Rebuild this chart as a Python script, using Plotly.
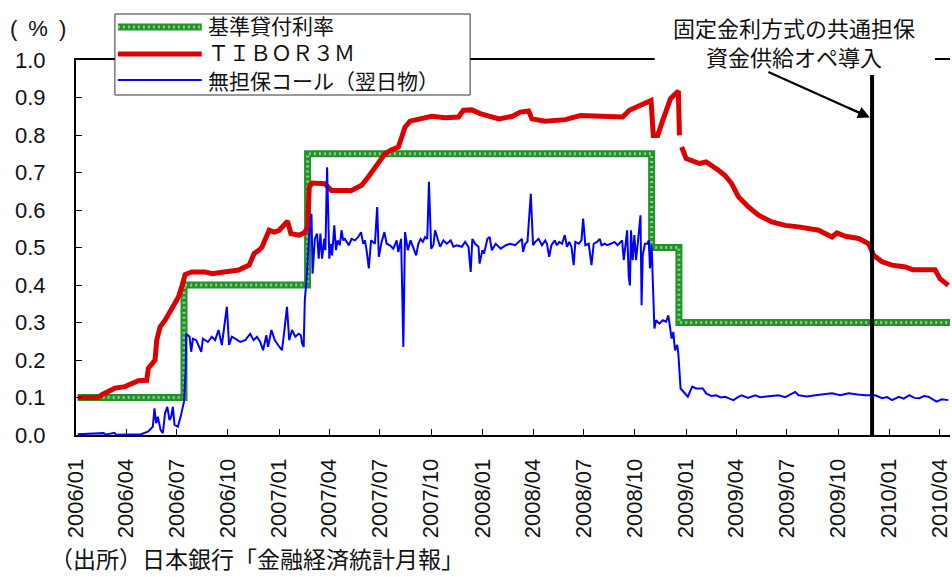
import plotly.graph_objects as go

# ---- 基準貸付利率（変更日と水準, %）----
policy_dates = ["2006-01-04", "2006-07-14", "2007-02-21", "2008-10-31", "2008-12-19", "2010-04-30"]
policy_rate = [0.10, 0.40, 0.75, 0.50, 0.30, 0.30]

# ---- TIBOR 3M (%) ----
tibor_dates = [
    "2006-01-04", "2006-02-09", "2006-02-18", "2006-03-12", "2006-03-30", "2006-04-23",
    "2006-05-08", "2006-05-11", "2006-05-23", "2006-05-26", "2006-06-01", "2006-06-10",
    "2006-06-22", "2006-07-04", "2006-07-10", "2006-07-16", "2006-07-28", "2006-08-21",
    "2006-09-02", "2006-09-26", "2006-10-20", "2006-11-08", "2006-11-17", "2006-11-26",
    "2006-12-01", "2006-12-14", "2006-12-23", "2007-01-01", "2007-01-16", "2007-01-22",
    "2007-02-06", "2007-02-15", "2007-02-21", "2007-02-24", "2007-03-01", "2007-03-24",
    "2007-04-05", "2007-05-11", "2007-05-29", "2007-06-10", "2007-06-19", "2007-06-28",
    "2007-07-10", "2007-07-22", "2007-08-03", "2007-08-09", "2007-08-15", "2007-08-24",
    "2007-09-08", "2007-10-02", "2007-10-26", "2007-11-19", "2007-11-28", "2007-12-13",
    "2007-12-28", "2008-01-12", "2008-01-31", "2008-02-24", "2008-03-09", "2008-03-24",
    "2008-03-30", "2008-04-23", "2008-05-05", "2008-05-29", "2008-06-25", "2008-07-28",
    "2008-09-09", "2008-09-21", "2008-10-09", "2008-10-30", "2008-11-03", "2008-11-11",
    "2008-11-20", "2008-11-26", "2008-12-04", "2008-12-13", "2008-12-18", "2008-12-20",
    "2008-12-22",
    "2008-12-24", "2009-01-01", "2009-01-25", "2009-02-06", "2009-02-28", "2009-03-12",
    "2009-03-24", "2009-04-05", "2009-04-23", "2009-05-11", "2009-06-04", "2009-06-28",
    "2009-07-22", "2009-08-27", "2009-09-20", "2009-09-29", "2009-10-14", "2009-11-07",
    "2009-11-25", "2009-12-04", "2009-12-19", "2010-01-06", "2010-01-30", "2010-02-12",
    "2010-03-24", "2010-04-02", "2010-04-17",
]
tibor_rate = [
    0.100, 0.100, 0.109, 0.125, 0.129, 0.145,
    0.146, 0.178, 0.200, 0.253, 0.288, 0.306,
    0.337, 0.368, 0.395, 0.428, 0.435, 0.435,
    0.430, 0.435, 0.440, 0.453, 0.484, 0.493,
    0.501, 0.546, 0.541, 0.546, 0.570, 0.537,
    0.533, 0.539, 0.553, 0.661, 0.672, 0.670,
    0.652, 0.652, 0.666, 0.688, 0.706, 0.728,
    0.750, 0.761, 0.768, 0.794, 0.821, 0.837,
    0.843, 0.850, 0.846, 0.848, 0.866, 0.867,
    0.857, 0.852, 0.843, 0.850, 0.861, 0.864,
    0.843, 0.837, 0.839, 0.841, 0.852, 0.850,
    0.848, 0.866, 0.879, 0.892, 0.799, 0.799,
    0.839, 0.866, 0.897, 0.910, 0.917, 0.799,
    None,
    0.768, 0.737, 0.724, 0.728, 0.706, 0.692,
    0.670, 0.635, 0.608, 0.586, 0.568, 0.559,
    0.555, 0.546, 0.528, 0.539, 0.530, 0.524,
    0.510, 0.479, 0.462, 0.453, 0.448, 0.441,
    0.441, 0.417, 0.399,
]

# ---- 無担保コール（翌日物）(%) ----
call_dates = [
    "2006-01-04", "2006-02-20", "2006-02-23", "2006-03-11", "2006-03-14", "2006-04-28",
    "2006-05-10", "2006-05-19", "2006-05-22", "2006-05-25", "2006-05-28", "2006-06-02",
    "2006-06-06", "2006-06-10", "2006-06-14", "2006-06-18", "2006-06-21", "2006-06-24",
    "2006-06-27", "2006-07-03", "2006-07-08", "2006-07-11", "2006-07-14", "2006-07-17",
    "2006-07-18", "2006-07-24", "2006-07-27", "2006-07-30", "2006-08-05", "2006-08-14",
    "2006-08-17", "2006-08-26", "2006-09-02", "2006-09-08", "2006-09-14", "2006-09-20",
    "2006-09-29", "2006-10-03", "2006-10-08", "2006-10-14", "2006-10-23", "2006-11-01",
    "2006-11-10", "2006-11-16", "2006-11-22", "2006-11-28", "2006-12-03", "2006-12-09",
    "2006-12-12", "2006-12-18", "2006-12-24", "2006-12-30", "2007-01-06", "2007-01-10",
    "2007-01-15", "2007-01-19", "2007-01-24", "2007-01-30", "2007-02-05", "2007-02-09",
    "2007-02-11", "2007-02-14", "2007-02-16", "2007-02-19", "2007-02-24", "2007-02-28",
    "2007-03-02", "2007-03-06", "2007-03-10", "2007-03-13", "2007-03-16", "2007-03-19",
    "2007-03-23", "2007-03-25", "2007-03-28", "2007-04-01", "2007-04-04", "2007-04-06",
    "2007-04-10", "2007-04-13", "2007-04-16", "2007-04-20", "2007-04-23", "2007-04-26",
    "2007-04-29", "2007-05-06", "2007-05-11", "2007-05-17", "2007-05-23", "2007-05-28",
    "2007-06-01", "2007-06-04", "2007-06-07", "2007-06-11", "2007-06-15", "2007-06-22",
    "2007-06-26", "2007-06-29", "2007-07-04", "2007-07-09", "2007-07-13", "2007-07-19",
    "2007-07-25", "2007-07-31", "2007-08-03", "2007-08-08", "2007-08-12", "2007-08-15",
    "2007-08-20", "2007-08-25", "2007-08-31", "2007-09-04", "2007-09-08", "2007-09-12",
    "2007-09-16", "2007-09-20", "2007-09-24", "2007-09-27", "2007-10-01", "2007-10-05",
    "2007-10-08", "2007-10-13", "2007-10-17", "2007-10-23", "2007-10-29", "2007-11-05",
    "2007-11-10", "2007-11-16", "2007-11-25", "2007-12-01", "2007-12-07", "2007-12-11",
    "2007-12-14", "2007-12-19", "2007-12-25", "2007-12-27", "2008-01-01", "2008-01-04",
    "2008-01-10", "2008-01-14", "2008-01-18", "2008-01-25", "2008-02-03", "2008-02-12",
    "2008-02-20", "2008-02-29", "2008-03-07", "2008-03-12", "2008-03-14", "2008-03-18",
    "2008-03-22", "2008-03-28", "2008-04-01", "2008-04-05", "2008-04-11", "2008-04-17",
    "2008-04-23", "2008-04-26", "2008-04-30", "2008-05-04", "2008-05-10", "2008-05-14",
    "2008-05-18", "2008-05-23", "2008-05-28", "2008-06-01", "2008-06-05", "2008-06-09",
    "2008-06-13", "2008-06-16", "2008-06-22", "2008-06-27", "2008-06-30", "2008-07-04",
    "2008-07-10", "2008-07-15", "2008-07-19", "2008-07-25", "2008-07-30", "2008-08-02",
    "2008-08-08", "2008-08-12", "2008-08-19", "2008-08-25", "2008-08-31", "2008-09-03",
    "2008-09-08", "2008-09-11", "2008-09-14", "2008-09-17", "2008-09-20", "2008-09-22",
    "2008-09-24", "2008-09-27", "2008-09-30", "2008-10-03", "2008-10-06", "2008-10-08",
    "2008-10-11", "2008-10-13", "2008-10-15", "2008-10-19", "2008-10-23", "2008-10-26",
    "2008-10-28", "2008-10-31", "2008-11-03", "2008-11-05", "2008-11-08", "2008-11-14",
    "2008-11-20", "2008-11-26", "2008-11-30", "2008-12-03", "2008-12-06", "2008-12-09",
    "2008-12-12", "2008-12-16", "2008-12-18", "2008-12-22", "2008-12-28", "2009-01-04",
    "2009-01-12", "2009-01-19", "2009-01-31", "2009-02-06", "2009-02-15", "2009-02-24",
    "2009-03-04", "2009-03-12", "2009-03-20", "2009-03-27", "2009-04-04", "2009-04-11",
    "2009-04-22", "2009-05-05", "2009-05-14", "2009-05-23", "2009-06-04", "2009-06-16",
    "2009-06-28", "2009-07-16", "2009-07-22", "2009-08-06", "2009-08-21", "2009-09-04",
    "2009-09-20", "2009-10-05", "2009-10-20", "2009-11-05", "2009-11-19", "2009-12-07",
    "2009-12-19", "2009-12-28", "2010-01-06", "2010-01-18", "2010-01-27", "2010-02-06",
    "2010-02-15", "2010-02-24", "2010-03-04", "2010-03-12", "2010-03-20", "2010-03-27",
    "2010-04-05", "2010-04-17",
]
call_rate = [
    0.002, 0.005, 0.001, 0.006, 0.001, 0.002,
    0.009, 0.022, 0.071, 0.031, 0.049, 0.013,
    0.005, 0.058, 0.075, 0.040, 0.049, 0.075,
    0.027, 0.022, 0.049, 0.071, 0.089, 0.173,
    0.270, 0.262, 0.222, 0.257, 0.253, 0.222,
    0.257, 0.248, 0.262, 0.253, 0.280, 0.240,
    0.342, 0.240, 0.262, 0.257, 0.248, 0.253,
    0.270, 0.253, 0.262, 0.248, 0.226, 0.266,
    0.235, 0.280, 0.253, 0.240, 0.226, 0.275,
    0.342, 0.253, 0.280, 0.262, 0.270, 0.266,
    0.244, 0.235, 0.359, 0.413, 0.537, 0.590,
    0.430, 0.523, 0.537, 0.470, 0.537, 0.470,
    0.523, 0.493, 0.714, 0.470, 0.510, 0.479,
    0.559, 0.493, 0.519, 0.506, 0.546, 0.519,
    0.523, 0.506, 0.523, 0.519, 0.528, 0.541,
    0.510, 0.519, 0.493, 0.444, 0.519, 0.510,
    0.608, 0.475, 0.515, 0.541, 0.510, 0.506,
    0.497, 0.519, 0.488, 0.523, 0.235, 0.541,
    0.493, 0.519, 0.493, 0.479, 0.510, 0.523,
    0.515, 0.528, 0.523, 0.675, 0.497, 0.506,
    0.546, 0.523, 0.502, 0.519, 0.510, 0.519,
    0.502, 0.506, 0.502, 0.515, 0.502, 0.435,
    0.523, 0.510, 0.502, 0.457, 0.493, 0.484,
    0.523, 0.528, 0.493, 0.510, 0.497, 0.506,
    0.510, 0.506, 0.515, 0.523, 0.488, 0.510,
    0.515, 0.643, 0.506, 0.515, 0.523, 0.506,
    0.519, 0.510, 0.475, 0.506, 0.519, 0.506,
    0.515, 0.510, 0.533, 0.502, 0.515, 0.502,
    0.453, 0.515, 0.510, 0.519, 0.577, 0.506,
    0.510, 0.453, 0.510, 0.515, 0.523, 0.506,
    0.510, 0.506, 0.510, 0.515, 0.506, 0.510,
    0.519, 0.466, 0.515, 0.546, 0.421, 0.399,
    0.546, 0.466, 0.533, 0.466, 0.510, 0.546,
    0.586, 0.346, 0.479, 0.510, 0.510, 0.519,
    0.444, 0.506, 0.377, 0.284, 0.306, 0.297,
    0.306, 0.302, 0.319, 0.280, 0.257, 0.275,
    0.226, 0.240, 0.217, 0.124, 0.115, 0.102,
    0.129, 0.124, 0.124, 0.111, 0.104, 0.106,
    0.100, 0.102, 0.097, 0.093, 0.101, 0.106,
    0.099, 0.106, 0.101, 0.102, 0.104, 0.106,
    0.101, 0.115, 0.106, 0.103, 0.106, 0.108,
    0.111, 0.106, 0.111, 0.108, 0.106, 0.106,
    0.098, 0.101, 0.093, 0.102, 0.097, 0.106,
    0.099, 0.098, 0.104, 0.102, 0.096, 0.089,
    0.095, 0.093,
]

# Quarterly axis ticks
tick_dates = [
    "2006-01-01", "2006-04-01", "2006-07-01", "2006-10-01",
    "2007-01-01", "2007-04-01", "2007-07-01", "2007-10-01",
    "2008-01-01", "2008-04-01", "2008-07-01", "2008-10-01",
    "2009-01-01", "2009-04-01", "2009-07-01", "2009-10-01",
    "2010-01-01", "2010-04-01",
]
tick_labels = [
    "2006/01", "2006/04", "2006/07", "2006/10",
    "2007/01", "2007/04", "2007/07", "2007/10",
    "2008/01", "2008/04", "2008/07", "2008/10",
    "2009/01", "2009/04", "2009/07", "2009/10",
    "2010/01", "2010/04",
]

series_names = ["基準貸付利率", "ＴＩＢＯＲ３Ｍ", "無担保コール（翌日物）"]

EVENT_DATE = "2009-12-01"
EVENT_TOP = 0.96

# Japanese glyphs fall back to Noto Sans CJK JP; Liberation Sans keeps line boxes compact
JP_FONT = "Liberation Sans, Noto Sans CJK JP, sans-serif"
NUM_FONT = "Liberation Sans, Arial, sans-serif"
GREEN = "#23922a"
GREEN_DOTS = "#86cf86"
RED = "#dd0000"
BLUE = "#0000ff"

fig = go.Figure()

# 基準貸付利率: thick green band with a light speckled texture on top
fig.add_trace(go.Scatter(
    x=policy_dates, y=policy_rate, mode="lines", line_shape="hv",
    name=series_names[0], showlegend=False,
    line=dict(color=GREEN, width=7),
))
fig.add_trace(go.Scatter(
    x=policy_dates, y=policy_rate, mode="lines", line_shape="hv",
    showlegend=False, hoverinfo="skip",
    line=dict(color=GREEN_DOTS, width=3, dash="2px,3px"),
))

fig.add_trace(go.Scatter(
    x=tibor_dates, y=tibor_rate, mode="lines",
    name=series_names[1], showlegend=False,
    line=dict(color=RED, width=5),
    connectgaps=False,
))

fig.add_trace(go.Scatter(
    x=call_dates, y=call_rate, mode="lines",
    name=series_names[2], showlegend=False,
    line=dict(color=BLUE, width=2),
))

# Vertical marker for the introduction of the fixed-rate operation
fig.add_shape(
    type="line", xref="x", yref="y",
    x0=EVENT_DATE, x1=EVENT_DATE, y0=0, y1=EVENT_TOP,
    line=dict(color="black", width=4),
)


# ---- helpers: pixel position -> paper coordinates (plot area 876 x 375 px) ----
def px_x(px):
    return (px - 76) / 876.0


def px_y(py):
    return (435 - py) / 375.0


# Legend box drawn over the top frame line
fig.add_shape(
    type="rect", xref="paper", yref="paper", layer="above",
    x0=px_x(115), x1=px_x(471), y0=px_y(95), y1=px_y(14),
    line=dict(color="#333333", width=1), fillcolor="white",
)
legend_rows = [27, 54, 80]
legend_styles = [
    [dict(color=GREEN, width=7), dict(color=GREEN_DOTS, width=3, dash="2px,3px")],
    [dict(color=RED, width=5)],
    [dict(color=BLUE, width=2)],
]
for row, styles in zip(legend_rows, legend_styles):
    for st in styles:
        fig.add_shape(
            type="line", xref="paper", yref="paper", layer="above",
            x0=px_x(118), x1=px_x(202), y0=px_y(row), y1=px_y(row),
            line=st,
        )
fig.add_annotation(
    xref="paper", yref="paper", x=px_x(206), y=px_y(54),
    xanchor="left", yanchor="middle", align="left", showarrow=False,
    text="<br>".join(series_names),
    font=dict(family=JP_FONT, size=21, color="#111111"),
)

# Event label: white gap in the top frame line, then the two-line text
fig.add_shape(
    type="rect", xref="paper", yref="paper", layer="above",
    x0=px_x(656), x1=px_x(937), y0=px_y(66), y1=px_y(54),
    line=dict(width=0), fillcolor="white",
)
fig.add_annotation(
    xref="paper", yref="paper", x=px_x(796), y=px_y(44),
    xanchor="center", yanchor="middle",
    text="固定金利方式の共通担保<br>資金供給オペ導入",
    showarrow=False, align="center",
    font=dict(family=JP_FONT, size=22, color="#111111"),
)
# Arrow: shaft as a line, head from a short annotation arrow at the tip
fig.add_shape(
    type="line", xref="paper", yref="paper", layer="above",
    x0=px_x(770), y0=px_y(72), x1=px_x(866), y1=px_y(115),
    line=dict(color="black", width=2),
)
fig.add_annotation(
    xref="x", yref="y", x="2009-11-27", y=0.847,
    ax=-22, ay=-10, text="",
    showarrow=True, arrowhead=2, arrowsize=1.2, arrowwidth=2, arrowcolor="black",
)

fig.add_annotation(
    xref="paper", yref="paper", x=px_x(8), y=px_y(28),
    xanchor="left", yanchor="middle",
    text="(\u2002%\u2002)", showarrow=False,
    font=dict(family=NUM_FONT, size=22, color="#111111"),
)
fig.add_annotation(
    xref="paper", yref="paper", x=px_x(48), y=px_y(560),
    xanchor="left", yanchor="middle",
    text="（出所）日本銀行「金融経済統計月報」", showarrow=False,
    font=dict(family=JP_FONT, size=23, color="#111111"),
)

fig.update_layout(
    width=952, height=577,
    margin=dict(l=76, r=0, t=60, b=142),
    paper_bgcolor="white", plot_bgcolor="white",
    showlegend=False,
)

fig.update_xaxes(
    type="date", range=["2006-01-01", "2010-04-20"],
    tickmode="array", tickvals=tick_dates, ticktext=tick_labels, tickangle=-90,
    ticks="inside", ticklen=6, tickcolor="black", tickwidth=1,
    showline=True, linecolor="black", linewidth=2, mirror=True,
    showgrid=False, zeroline=False,
    tickfont=dict(family=NUM_FONT, size=22, color="#111111"),
    ticklabelstandoff=13, ticklabeloverflow="allow",
)
fig.update_yaxes(
    range=[0, 1.0], tick0=0, dtick=0.1, tickformat=".1f",
    ticks="inside", ticklen=6, tickcolor="black", tickwidth=1,
    showline=True, linecolor="black", linewidth=2,
    showgrid=False, zeroline=False,
    tickfont=dict(family=NUM_FONT, size=22, color="#111111"),
    ticklabelstandoff=24,
)

fig.write_html("out.html")
